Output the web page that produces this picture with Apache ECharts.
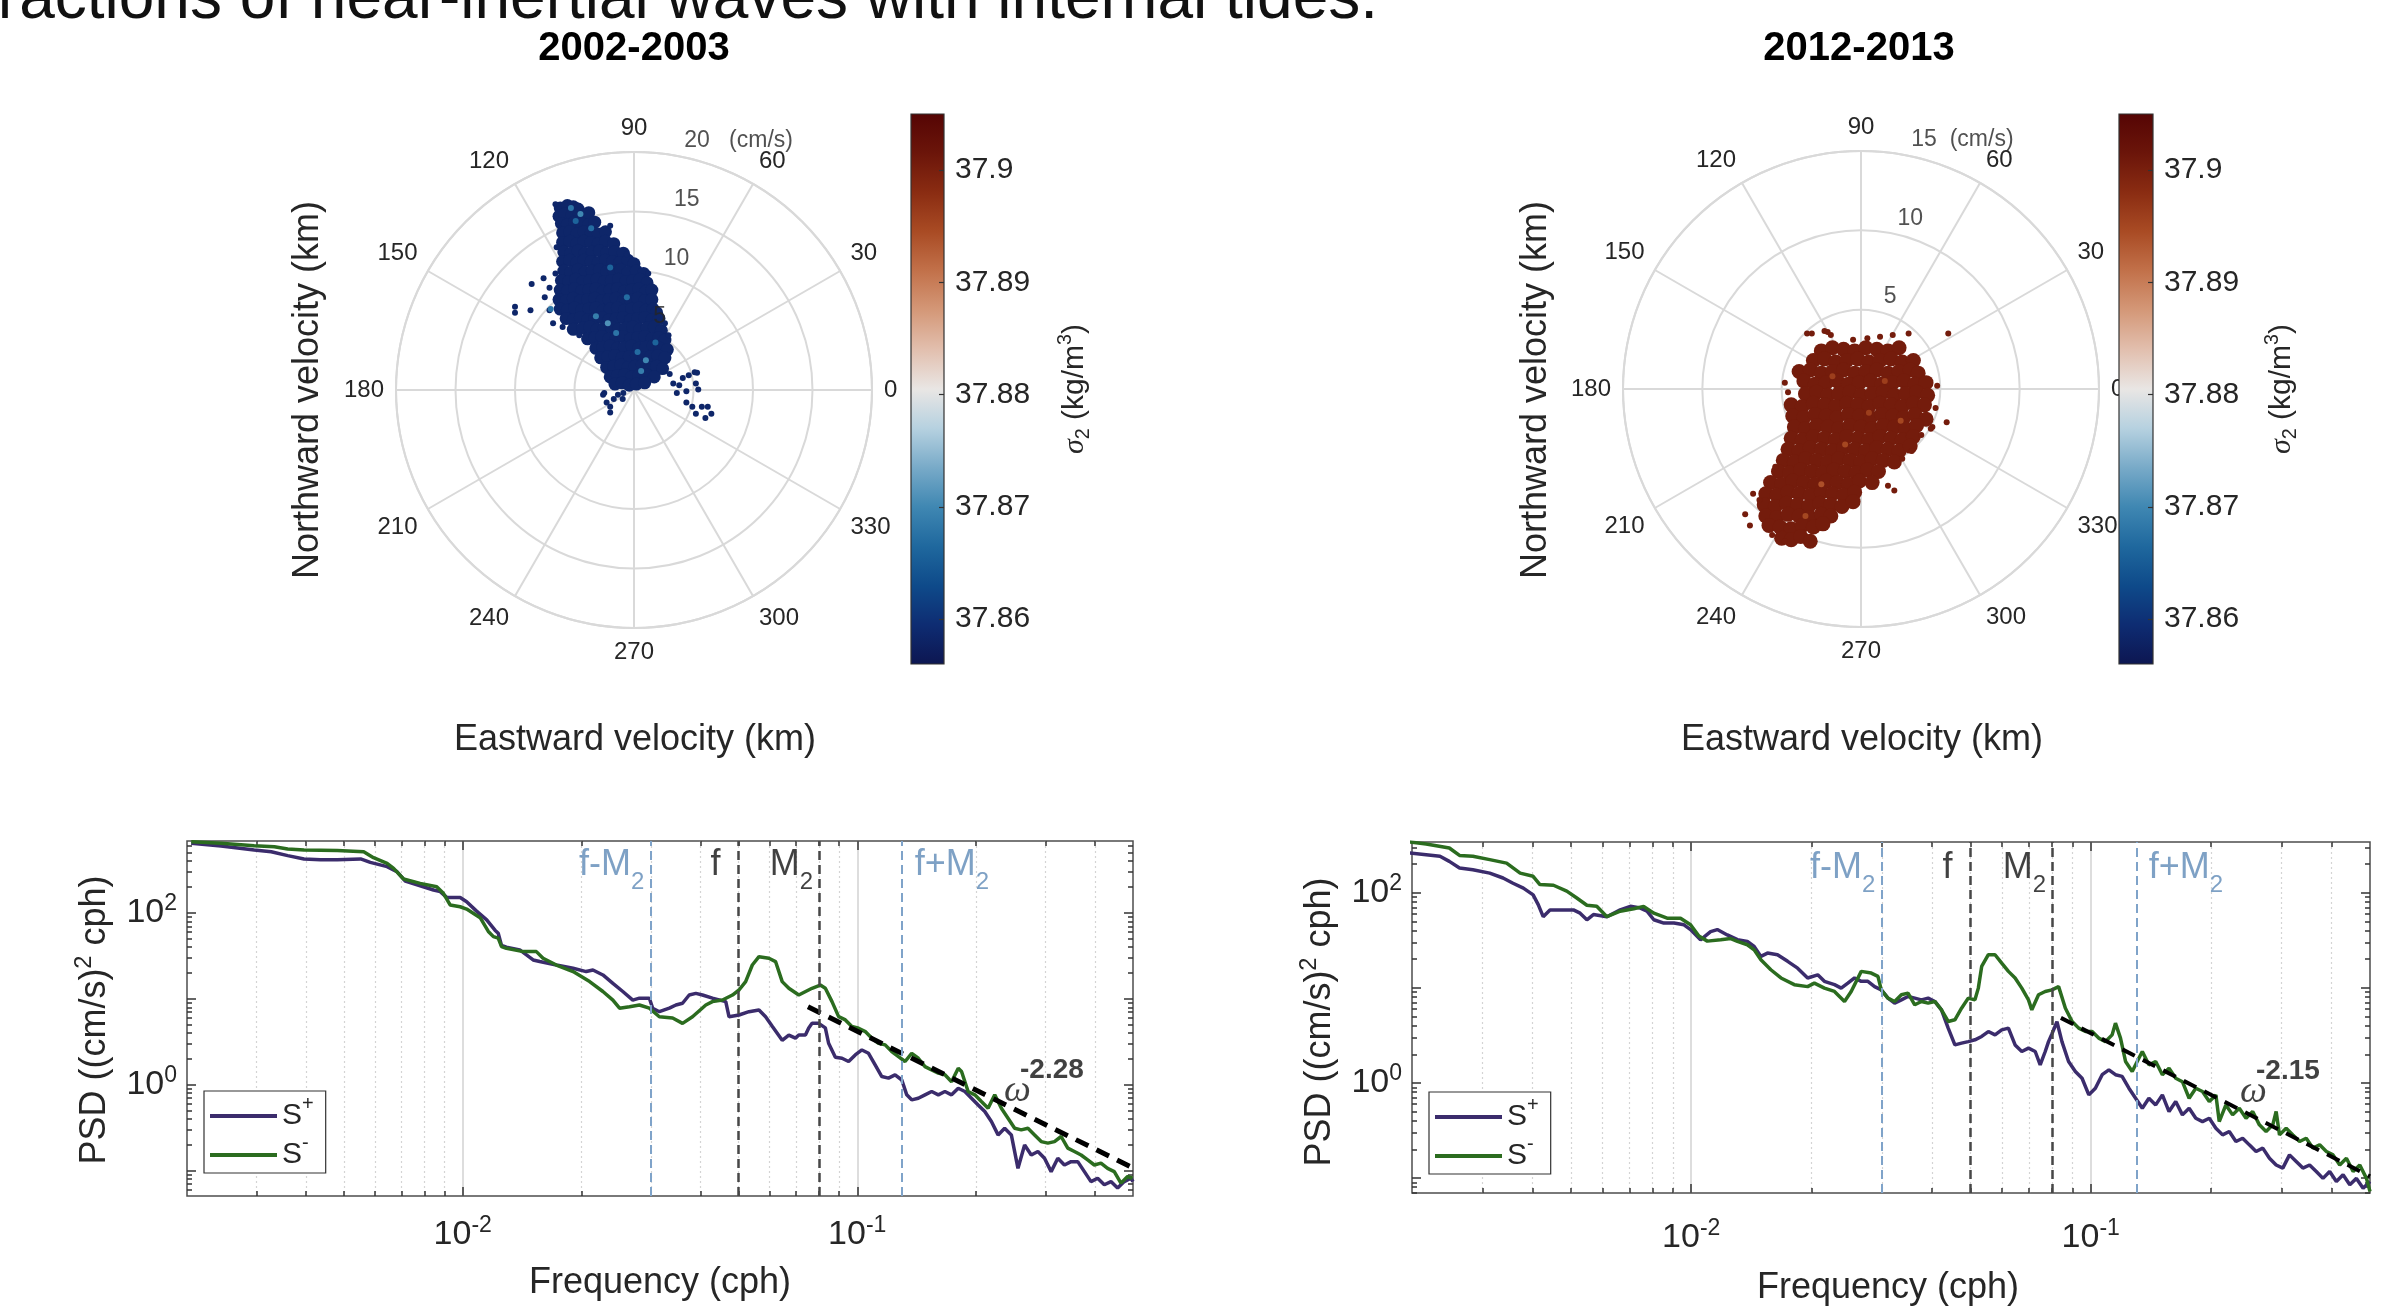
<!DOCTYPE html>
<html>
<head>
<meta charset="utf-8">
<title>Near-inertial waves and internal tides</title>
<script src="https://cdn.jsdelivr.net/npm/echarts@6/dist/echarts.min.js"></script>
<style>
html, body { margin: 0; padding: 0; background: #fff; }
#chart { width: 2401px; height: 1310px; }
</style>
</head>
<body>
<div id="chart"></div>
<script>
var FONT = "'Liberation Sans', Arial, Helvetica, sans-serif";
var NARROW = "'Liberation Sans Narrow', 'Liberation Sans', Arial, sans-serif";
var INK = '#262626';

/*-----colormap (balance) and sigma_2 scale-----*/
var balance = ['#0d1651', '#0e2c72', '#0e4a8a', '#1f689e', '#3f87b2', '#78aac8', '#b6d1e0', '#e9e6e4',
	'#e2bfae', '#d49878', '#c2714a', '#a94b24', '#8a2c12', '#6b150a', '#550504'];
var sigmaRange = [37.856, 37.905];
var sigmaTicks = [37.86, 37.87, 37.88, 37.89, 37.9];

/*-----velocity clouds, [east, north] in cm/s-----*/
var vel2002Core = [
	[-6.2,15.3],[-5.6,15.5],[-5.1,15.4],[-4.7,15.2],
	[-6.3,14.6],[-5.8,14.8],[-5.2,14.7],[-4.6,14.8],[-4.1,14.6],[-3.8,14.9],
	[-6.1,14.0],[-5.6,13.9],[-5.0,14.1],[-4.4,14.0],[-3.8,13.9],[-3.3,14.1],
	[-6.0,13.2],[-5.4,13.3],[-4.8,13.1],[-4.2,13.3],[-3.6,13.2],[-3.0,13.1],[-2.4,13.3],
	[-6.0,12.4],[-5.4,12.5],[-4.8,12.3],[-4.2,12.5],[-3.6,12.4],[-3.0,12.3],[-2.4,12.5],[-1.7,12.3],
	[-5.9,11.6],[-5.3,11.5],[-4.7,11.7],[-4.1,11.5],[-3.5,11.6],[-2.9,11.7],[-2.3,11.5],[-1.6,11.6],[-0.9,11.5],
	[-6.0,10.8],[-5.4,10.9],[-4.8,10.7],[-4.2,10.9],[-3.6,10.8],[-3.0,10.7],[-2.4,10.9],[-1.8,10.8],[-1.2,10.7],[-0.5,10.9],[0.0,10.6],
	[-5.9,10.0],[-5.3,9.9],[-4.7,10.1],[-4.1,9.9],[-3.5,10.0],[-2.9,10.1],[-2.3,9.9],[-1.7,10.0],[-1.1,10.1],[-0.5,9.9],[0.2,10.0],[0.8,9.8],
	[-6.1,9.2],[-5.5,9.1],[-4.9,9.3],[-4.3,9.1],[-3.7,9.2],[-3.1,9.3],[-2.5,9.1],[-1.9,9.2],[-1.3,9.3],[-0.7,9.1],[-0.1,9.2],[0.5,9.3],[1.1,9.0],
	[-6.2,8.4],[-5.6,8.3],[-5.0,8.5],[-4.4,8.3],[-3.8,8.4],[-3.2,8.5],[-2.6,8.3],[-2.0,8.4],[-1.4,8.5],[-0.8,8.3],[-0.2,8.4],[0.4,8.5],[1.0,8.3],[1.5,8.4],
	[-6.3,7.6],[-5.7,7.5],[-5.1,7.7],[-4.5,7.5],[-3.9,7.6],[-3.3,7.7],[-2.7,7.5],[-2.1,7.6],[-1.5,7.7],[-0.9,7.5],[-0.3,7.6],[0.3,7.7],[0.9,7.5],[1.5,7.6],
	[-6.2,6.8],[-5.6,6.7],[-5.0,6.9],[-4.4,6.7],[-3.8,6.8],[-3.2,6.9],[-2.6,6.7],[-2.0,6.8],[-1.4,6.9],[-0.8,6.7],[-0.2,6.8],[0.4,6.9],[1.0,6.7],[1.6,6.8],[1.9,6.5],
	[-5.7,6.0],[-5.1,5.9],[-4.5,6.1],[-3.9,5.9],[-3.3,6.0],[-2.7,6.1],[-2.1,5.9],[-1.5,6.0],[-0.9,6.1],[-0.3,5.9],[0.3,6.0],[0.9,6.1],[1.5,5.9],[2.1,6.0],
	[-5.1,5.1],[-4.3,5.2],[-3.7,5.3],[-3.1,5.1],[-2.5,5.2],[-1.9,5.3],[-1.3,5.1],[-0.7,5.2],[-0.1,5.3],[0.5,5.1],[1.1,5.2],[1.7,5.3],[2.3,5.0],
	[-3.9,4.3],[-3.3,4.4],[-2.7,4.5],[-2.1,4.3],[-1.5,4.4],[-0.9,4.5],[-0.3,4.3],[0.3,4.4],[0.9,4.5],[1.5,4.3],[2.1,4.4],[2.6,4.2],
	[-3.2,3.5],[-2.6,3.6],[-2.0,3.7],[-1.4,3.5],[-0.8,3.6],[-0.2,3.7],[0.4,3.5],[1.0,3.6],[1.6,3.7],[2.2,3.5],[2.8,3.4],
	[-2.8,2.7],[-2.2,2.8],[-1.6,2.9],[-1.0,2.7],[-0.4,2.8],[0.2,2.9],[0.8,2.7],[1.4,2.8],[2.0,2.9],[2.6,2.7],
	[-2.3,1.9],[-1.7,2.0],[-1.1,2.1],[-0.5,1.9],[0.1,2.0],[0.7,2.1],[1.3,1.9],[1.9,2.0],[2.4,1.8],
	[-2.0,1.1],[-1.4,1.2],[-0.8,1.3],[-0.2,1.1],[0.4,1.2],[1.0,1.3],[1.7,1.1],
	[-1.6,0.5],[-1.0,0.6],[-0.4,0.4],[0.2,0.5],[0.9,0.6]
];
var vel2002Sparse = [
	[-10.0,7.0],[-10.0,6.5],[-8.7,6.7],[-8.6,8.9],[-7.6,9.4],[-7.1,8.6],[-7.5,7.8],[-7.1,6.7],[-6.8,5.6],
	[3.0,1.35],[3.3,0.55],[3.6,-0.25],[3.8,0.4],[4.1,1.0],[4.6,1.25],[5.1,1.5],[5.3,1.45],[5.2,0.55],[5.4,0.05],
	[4.4,-1.05],[4.9,-1.4],[5.2,-2.0],[5.7,-1.4],[6.2,-1.4],[6.0,-2.35],[6.5,-2.0],[4.4,-0.1],
	[-2.6,-0.4],[-2.5,-0.25],[-2.0,-1.4],[-2.0,-1.9],[-1.7,-0.75],[-1.35,-0.4],[-0.95,-0.75],[-0.9,-0.25],[-2.3,-1.05],
	[-6.6,15.6],[-6.5,12.0],[-6.6,9.8],[-6.0,5.3],[-4.6,4.6],[2.6,5.6],[2.9,4.6],[1.2,9.8],[-0.6,11.4],[-2.0,13.8]
];
var vel2002Light = [
	[-5.3,15.3,37.868],[-4.5,14.8,37.870],[-4.9,14.2,37.866],[-3.6,13.6,37.867],[-2.0,10.3,37.866],
	[-3.2,6.2,37.869],[-2.2,5.6,37.871],[-1.5,4.8,37.868],[0.3,3.2,37.867],[1.0,2.5,37.870],
	[0.6,1.6,37.869],[-7.0,6.8,37.868],[1.8,4.0,37.866],[-0.6,7.8,37.867]
];
var sigma2002 = 37.8585;

var vel2012Core = [
	[-2.5,2.4],[-1.8,2.6],[-1.1,2.5],[-0.4,2.4],[0.3,2.6],[1.0,2.5],[1.7,2.4],[2.4,2.6],
	[-3.0,1.8],[-2.3,1.9],[-1.6,1.7],[-0.9,1.8],[-0.2,1.9],[0.5,1.7],[1.2,1.8],[1.9,1.9],[2.6,1.7],[3.3,1.8],
	[-3.9,1.1],[-3.2,1.2],[-2.5,1.0],[-1.8,1.1],[-1.1,1.2],[-0.4,1.0],[0.3,1.1],[1.0,1.2],[1.7,1.0],[2.4,1.1],[3.1,1.2],[3.6,1.0],
	[-3.6,0.5],[-2.9,0.3],[-2.2,0.4],[-1.5,0.5],[-0.8,0.3],[-0.1,0.4],[0.6,0.5],[1.3,0.3],[2.0,0.4],[2.7,0.5],[3.4,0.3],[4.1,0.4],
	[-3.5,-0.3],[-2.8,-0.2],[-2.1,-0.4],[-1.4,-0.3],[-0.7,-0.2],[0.0,-0.4],[0.7,-0.3],[1.4,-0.2],[2.1,-0.4],[2.8,-0.3],[3.5,-0.2],[4.2,-0.4],
	[-4.4,-1.0],[-3.7,-1.1],[-3.0,-0.9],[-2.3,-1.0],[-1.6,-1.1],[-0.9,-0.9],[-0.2,-1.0],[0.5,-1.1],[1.2,-0.9],[1.9,-1.0],[2.6,-1.1],[3.3,-0.9],[4.0,-1.0],
	[-4.3,-1.7],[-3.6,-1.8],[-2.9,-1.6],[-2.2,-1.7],[-1.5,-1.8],[-0.8,-1.6],[-0.1,-1.7],[0.6,-1.8],[1.3,-1.6],[2.0,-1.7],[2.7,-1.8],[3.4,-1.6],[4.1,-1.9],
	[-4.2,-2.4],[-3.5,-2.5],[-2.8,-2.3],[-2.1,-2.4],[-1.4,-2.5],[-0.7,-2.3],[0.0,-2.4],[0.7,-2.5],[1.4,-2.3],[2.1,-2.4],[2.8,-2.5],[3.5,-2.3],
	[-4.4,-3.1],[-3.7,-3.2],[-3.0,-3.0],[-2.3,-3.1],[-1.6,-3.2],[-0.9,-3.0],[-0.2,-3.1],[0.5,-3.2],[1.2,-3.0],[1.9,-3.1],[2.6,-3.2],[3.3,-3.0],
	[-4.6,-3.8],[-3.9,-3.9],[-3.2,-3.7],[-2.5,-3.8],[-1.8,-3.9],[-1.1,-3.7],[-0.4,-3.8],[0.3,-3.9],[1.0,-3.7],[1.7,-3.8],[2.4,-3.9],[3.1,-3.6],
	[-4.9,-4.5],[-4.2,-4.6],[-3.5,-4.4],[-2.8,-4.5],[-2.1,-4.6],[-1.4,-4.4],[-0.7,-4.5],[0.0,-4.6],[0.7,-4.4],[1.4,-4.5],[2.1,-4.6],
	[-5.2,-5.2],[-4.5,-5.3],[-3.8,-5.1],[-3.1,-5.2],[-2.4,-5.3],[-1.7,-5.1],[-1.0,-5.2],[-0.3,-5.3],[0.4,-5.1],[1.1,-5.2],
	[-5.7,-5.9],[-5.0,-6.0],[-4.3,-5.8],[-3.6,-5.9],[-2.9,-6.0],[-2.2,-5.8],[-1.5,-5.9],[-0.8,-6.0],[-0.1,-5.8],[0.7,-5.9],
	[-6.0,-6.6],[-5.3,-6.7],[-4.6,-6.5],[-3.9,-6.6],[-3.2,-6.7],[-2.5,-6.5],[-1.8,-6.6],[-1.1,-6.7],[-0.4,-6.5],
	[-6.1,-7.3],[-5.4,-7.4],[-4.7,-7.2],[-4.0,-7.3],[-3.3,-7.4],[-2.6,-7.2],[-1.9,-7.3],[-1.2,-7.4],[-0.5,-7.1],
	[-6.0,-8.0],[-5.3,-8.1],[-4.6,-7.9],[-3.9,-8.0],[-3.2,-8.1],[-2.5,-7.9],[-1.9,-8.0],
	[-5.8,-8.6],[-5.1,-8.7],[-4.4,-8.8],[-3.7,-8.6],[-3.0,-8.7],[-2.4,-8.5],
	[-5.0,-9.4],[-4.4,-9.5],[-3.8,-9.3],[-3.2,-9.6]
];
var vel2012Sparse = [
	[-3.1,3.5],[-2.1,3.6],[-1.9,3.4],[-0.5,3.1],[0.4,3.2],[1.2,3.3],[2.0,3.4],[3.0,3.5],[5.5,3.5],
	[-4.8,0.4],[4.8,0.2],[-4.6,-0.2],[4.7,-1.2],[4.5,-2.4],
	[-6.8,-6.6],[-7.3,-7.9],[-7.0,-8.6],[5.4,-2.1],[4.4,-2.5],[3.2,-3.9],[2.1,-6.4],[1.7,-6.1],
	[-3.1,-9.7],[-4.8,-9.6],[-3.4,3.5],[-2.3,3.65],[-5.4,-4.9],[-6.4,-7.0],[-5.6,-9.2],[2.6,-4.4],[3.8,-2.9]
];
var vel2012Light = [
	[-1.0,-3.5,37.895],[0.5,-1.5,37.896],[-2.5,-6.0,37.894],[1.5,0.5,37.896],
	[-3.5,-8.0,37.895],[2.5,-2.0,37.895],[-1.8,0.8,37.896]
];
var sigma2012 = 37.9005;

var rings2002 = [5, 10, 15, 20];
var rings2012 = [5, 10, 15];

/*-----rotary spectra, [frequency (cph), PSD ((cm/s)^2 cph)]-----*/
var sPlus2002 = [[0.00205,646],[0.00244,601],[0.00296,540],[0.00327,516],[0.0036,464],[0.00396,425],[0.00436,417],[0.00481,417],[0.00551,425],[0.00583,388],[0.00643,346],[0.00681,303],[0.00715,235],[0.0078,207],[0.00843,185],[0.00877,177],[0.00912,151],[0.00985,151],[0.01023,135],[0.01084,105],[0.0115,83],[0.01207,63],[0.0123,58],[0.01254,42],[0.0129,40],[0.01395,37.1],[0.01508,28.4],[0.01567,27.2],[0.01727,24.8],[0.01904,22.7],[0.02056,20.8],[0.02138,21.7],[0.02266,19.0],[0.02402,15.2],[0.02545,12.2],[0.02698,9.7],[0.02804,10.2],[0.02972,10.2],[0.0303,7.8],[0.0315,7.1],[0.03339,7.8],[0.0347,8.5],[0.03607,8.9],[0.0375,11.1],[0.03898,11.6],[0.04052,11.1],[0.04295,10.2],[0.04642,9.3],[0.04732,6.2],[0.05015,6.5],[0.05316,7.1],[0.05635,7.45],[0.05857,6.2],[0.06088,4.8],[0.06453,3.3],[0.06707,3.8],[0.06972,3.5],[0.07109,3.8],[0.0739,3.8],[0.07534,4.6],[0.0768,5.2],[0.07985,5.2],[0.083,4.6],[0.0846,3.05],[0.088,2.1],[0.09147,2.04],[0.09508,1.87],[0.09884,2.23],[0.10275,2.55],[0.10681,2.33],[0.111,1.71],[0.1154,1.25],[0.12,1.2],[0.1247,1.31],[0.1297,1.14],[0.1335,0.766],[0.1374,0.67],[0.1428,0.7],[0.1485,0.766],[0.1544,0.837],[0.1605,0.766],[0.1668,0.837],[0.1734,0.766],[0.1803,0.914],[0.1874,0.837],[0.1948,0.7],[0.2025,0.585],[0.2105,0.49],[0.2188,0.375],[0.2275,0.262],[0.2364,0.313],[0.2458,0.262],[0.2555,0.107],[0.2656,0.2],[0.2761,0.153],[0.287,0.168],[0.2983,0.14],[0.3101,0.098],[0.3224,0.14],[0.3351,0.117],[0.3484,0.128],[0.3622,0.128],[0.3765,0.098],[0.3913,0.075],[0.4068,0.082],[0.4229,0.069],[0.4396,0.075],[0.457,0.063],[0.4751,0.075],[0.4939,0.082],[0.5,0.075]];
var sMinus2002 = [[0.00205,675],[0.00244,646],[0.00296,606],[0.00333,590],[0.0036,555],[0.00396,540],[0.00481,531],[0.00561,516],[0.00594,440],[0.00643,378],[0.00668,330],[0.00708,248],[0.0078,221],[0.00859,202],[0.00893,169],[0.00929,124],[0.00985,118],[0.01023,111],[0.01107,88],[0.01161,61],[0.01196,53],[0.0123,51],[0.01254,40.6],[0.0129,38.8],[0.01423,35.5],[0.01537,35.5],[0.01598,29.7],[0.01727,24.8],[0.01904,20.8],[0.02097,15.9],[0.02266,12.2],[0.02402,9.7],[0.02497,7.8],[0.02647,8.1],[0.02804,8.5],[0.02972,7.8],[0.0315,6.2],[0.03404,6.0],[0.03607,5.2],[0.03823,6.2],[0.04132,8.5],[0.04295,9.3],[0.04554,9.7],[0.04827,11.1],[0.05015,12.7],[0.05213,15.9],[0.0542,24.8],[0.05635,31.0],[0.05971,29.7],[0.06207,27.2],[0.06453,15.9],[0.06707,13.3],[0.07109,11.1],[0.0768,13.3],[0.0806,14.5],[0.083,13.3],[0.0863,9.31],[0.0897,6.23],[0.0933,5.7],[0.0969,4.77],[0.1008,4.56],[0.1048,4.17],[0.1089,3.49],[0.1132,3.05],[0.1177,2.92],[0.1223,2.44],[0.1272,2.13],[0.1322,1.87],[0.1374,2.33],[0.1428,2.04],[0.1485,1.63],[0.1544,1.49],[0.1605,1.37],[0.1668,1.31],[0.1734,1.09],[0.1803,1.56],[0.1838,1.43],[0.191,0.837],[0.1986,0.766],[0.2064,0.64],[0.2146,0.535],[0.2231,0.766],[0.2319,0.535],[0.2411,0.409],[0.2506,0.313],[0.2605,0.3],[0.2708,0.313],[0.2815,0.262],[0.2926,0.219],[0.3042,0.21],[0.3162,0.219],[0.3287,0.251],[0.3417,0.184],[0.3552,0.168],[0.3693,0.153],[0.3838,0.134],[0.399,0.117],[0.4147,0.123],[0.4311,0.107],[0.4482,0.098],[0.466,0.072],[0.4844,0.086],[0.4987,0.082]];
var sPlus2012 = [[0.00197,262],[0.00217,251],[0.00235,242],[0.00248,214],[0.00263,182],[0.00284,175],[0.00313,161],[0.00338,143],[0.00358,126],[0.0038,112],[0.00402,95],[0.00414,75],[0.00426,56],[0.00443,66],[0.00469,66],[0.00507,66],[0.00527,61],[0.00548,52],[0.00569,59],[0.00615,56],[0.00664,66],[0.00704,72],[0.00746,69],[0.00775,64],[0.00806,52],[0.00854,48],[0.00905,48],[0.00959,46],[0.00996,41],[0.01055,32],[0.01118,39],[0.01162,41],[0.01231,36],[0.01305,32.1],[0.01382,30.8],[0.01437,27.3],[0.01494,21.4],[0.01552,23.2],[0.01644,22.3],[0.01743,19.0],[0.01846,16.1],[0.01956,12.7],[0.02073,13.7],[0.02154,11.7],[0.02283,10.8],[0.02373,9.93],[0.02466,11.2],[0.02563,12.7],[0.02664,11.7],[0.02768,11.7],[0.02877,10.3],[0.0299,9.53],[0.03107,7.79],[0.03229,6.9],[0.03357,7.48],[0.03488,8.11],[0.03626,7.79],[0.03768,7.48],[0.03917,7.79],[0.0407,7.19],[0.0423,5.87],[0.04397,3.77],[0.0457,2.51],[0.04749,2.62],[0.04936,2.72],[0.0513,2.84],[0.05333,3.08],[0.05542,3.47],[0.0576,3.2],[0.05986,3.61],[0.06222,3.77],[0.06466,2.51],[0.0672,2.14],[0.06984,2.32],[0.07261,2.14],[0.07472,1.55],[0.07692,2.14],[0.0784,2.72],[0.08,3.3],[0.0823,4.4],[0.0847,2.72],[0.088,1.68],[0.0915,1.32],[0.0951,1.12],[0.0989,0.748],[0.1027,0.879],[0.1068,1.22],[0.111,1.37],[0.1153,1.22],[0.1198,1.17],[0.1246,0.879],[0.1295,0.69],[0.1346,0.542],[0.1398,0.69],[0.1454,0.587],[0.1511,0.748],[0.157,0.5],[0.1632,0.637],[0.1696,0.461],[0.1763,0.542],[0.1832,0.425],[0.1904,0.392],[0.198,0.425],[0.2057,0.334],[0.2138,0.284],[0.2222,0.308],[0.2309,0.242],[0.24,0.262],[0.2494,0.223],[0.2593,0.19],[0.2695,0.206],[0.2801,0.161],[0.2911,0.137],[0.3025,0.127],[0.3144,0.175],[0.3268,0.149],[0.3396,0.127],[0.353,0.137],[0.3669,0.117],[0.3813,0.099],[0.3963,0.117],[0.4119,0.092],[0.4281,0.108],[0.445,0.085],[0.4624,0.099],[0.4806,0.078],[0.5,0.092]];
var sMinus2012 = [[0.00197,342],[0.00217,326],[0.00248,296],[0.00263,247],[0.00284,242],[0.00313,223],[0.00345,205],[0.00373,161],[0.00402,149],[0.00418,122],[0.00452,120],[0.00488,104],[0.00517,88],[0.00548,74],[0.0058,72],[0.00615,56],[0.00664,64],[0.00718,68],[0.0076,72],[0.00806,61],[0.0087,54],[0.0094,54],[0.00996,46],[0.01045,35],[0.01097,31],[0.01185,32],[0.01256,33],[0.01305,30.8],[0.01382,28.4],[0.01437,25.1],[0.01494,19.7],[0.01582,15.5],[0.01677,12.7],[0.01811,10.8],[0.01956,10.3],[0.02033,11.2],[0.02154,9.93],[0.02283,9.16],[0.02419,7.19],[0.02514,9.16],[0.02664,14.9],[0.02822,14.3],[0.02933,13.2],[0.0299,9.53],[0.03107,7.79],[0.03229,7.19],[0.03357,8.45],[0.03488,8.79],[0.03626,6.63],[0.03768,7.19],[0.03917,6.9],[0.0407,7.19],[0.0423,5.87],[0.04397,4.43],[0.0457,4.61],[0.04749,6.11],[0.04936,7.79],[0.0513,7.48],[0.05231,9.93],[0.05333,16.8],[0.05542,22.3],[0.0576,22.3],[0.05986,18.2],[0.06222,14.9],[0.06466,12.7],[0.0672,9.93],[0.06984,7.48],[0.0712,5.87],[0.07401,8.45],[0.07692,9.16],[0.07995,9.53],[0.0831,10.3],[0.0864,6.11],[0.0898,4.43],[0.0933,3.77],[0.097,3.47],[0.1008,3.47],[0.1047,2.96],[0.1089,2.72],[0.1131,3.2],[0.1153,4.25],[0.1187,2.96],[0.1222,1.68],[0.127,1.32],[0.1307,1.68],[0.1346,2.14],[0.1398,1.55],[0.1454,1.68],[0.1511,1.22],[0.157,1.43],[0.1632,1.12],[0.1696,1.03],[0.1763,0.69],[0.1832,0.879],[0.1904,0.811],[0.198,0.637],[0.2057,0.748],[0.2097,0.392],[0.2179,0.587],[0.2265,0.461],[0.2354,0.542],[0.2447,0.425],[0.2543,0.5],[0.2643,0.362],[0.2747,0.308],[0.2855,0.362],[0.2911,0.5],[0.2968,0.284],[0.3084,0.334],[0.3206,0.284],[0.3332,0.242],[0.3462,0.262],[0.3599,0.206],[0.3741,0.223],[0.3888,0.19],[0.404,0.175],[0.42,0.137],[0.4365,0.161],[0.4537,0.117],[0.4714,0.137],[0.4899,0.099],[0.5,0.072]];

// power-law fits
var fit2002 = [[0.075, 8.1], [0.5, 0.108]];
var fit2012 = [[0.0842, 4.83], [0.5, 0.104]];
var slope2002 = '-2.28';
var slope2012 = '-2.15';

// tidal / inertial frequencies (cph)
var tideFreqs = [0.0299, 0.0506, 0.0805, 0.1311];
var tideNames = ['f-M', 'f', 'M', 'f+M'];
var tideSub = ['2', '', '2', '2'];

var freqMajor = [0.01, 0.1];
var freqMinor = [0.003, 0.004, 0.005, 0.006, 0.007, 0.008, 0.009, 0.02, 0.03, 0.04, 0.05, 0.06, 0.07, 0.08, 0.09, 0.2, 0.3, 0.4];
var psdMajor = [0.1, 1, 10, 100];
var psdLabels = [1, 100];
var psdMinor = [0.06, 0.07, 0.08, 0.09, 0.2, 0.3, 0.4, 0.5, 0.6, 0.7, 0.8, 0.9, 2, 3, 4, 5, 6, 7, 8, 9,
	20, 30, 40, 50, 60, 70, 80, 90, 200, 300, 400, 500, 600];

/*-----helpers-----*/
function toPolar(list, sigma) {
	return list.map(function(p) {
		var r = Math.sqrt(p[0] * p[0] + p[1] * p[1]);
		var a = Math.atan2(p[1], p[0]) * 180 / Math.PI;
		if (a < 0) a += 360;
		return [r, a, p.length > 2 ? p[2] : sigma];
	});
}
function pow10(v) {
	return '{b|10}{e|' + Math.round(Math.log10(v)) + '}';
}
var tickRich = {
	b: { fontSize: 34, fontFamily: FONT, color: INK, verticalAlign: 'middle' },
	e: { fontSize: 23, fontFamily: FONT, color: INK, verticalAlign: 'middle', padding: [0, 0, 18, 0] }
};

var xAxes = [], yAxes = [];
function psdAxes(g, yMin, yMax, labelMargin) {
	var ax = { x: xAxes.length, y: yAxes.length };
	var tick = { color: '#333', width: 1.5 };
	['bottom', 'top'].forEach(function(pos) {
		xAxes.push({ gridIndex: g, type: 'log', min: 0.002, max: 0.5, position: pos,
			axisLine: { show: false, onZero: false },
			axisTick: { show: true, inside: true, length: 9, customValues: freqMajor, lineStyle: tick },
			axisLabel: pos === 'bottom' ? { show: true, customValues: freqMajor, formatter: pow10, rich: tickRich, margin: labelMargin } : { show: false },
			splitLine: { show: pos === 'bottom', lineStyle: { color: '#d2d2d2', width: 1.5 } } });
		xAxes.push({ gridIndex: g, type: 'log', min: 0.002, max: 0.5, position: pos,
			axisLine: { show: false, onZero: false },
			axisTick: { show: true, inside: true, length: 5, customValues: freqMinor, lineStyle: tick },
			axisLabel: { show: false },
			splitLine: { show: pos === 'bottom', lineStyle: { color: '#d4d4d4', width: 1.2, type: [2, 3] } } });
	});
	['left', 'right'].forEach(function(pos) {
		yAxes.push({ gridIndex: g, type: 'log', min: yMin, max: yMax, position: pos,
			axisLine: { show: false, onZero: false },
			axisTick: { show: true, inside: true, length: 9, customValues: psdMajor, lineStyle: tick },
			axisLabel: pos === 'left' ? { show: true, customValues: psdLabels, formatter: pow10, rich: tickRich, margin: 10 } : { show: false },
			splitLine: { show: false } });
		yAxes.push({ gridIndex: g, type: 'log', min: yMin, max: yMax, position: pos,
			axisLine: { show: false, onZero: false },
			axisTick: { show: true, inside: true, length: 5, customValues: psdMinor, lineStyle: tick },
			axisLabel: { show: false }, splitLine: { show: false } });
	});
	return ax;
}
function cbarAxes(g) {
	var ax = { x: xAxes.length, y: yAxes.length };
	xAxes.push({ gridIndex: g, type: 'category', data: ['c'], show: false });
	yAxes.push({ gridIndex: g, type: 'value', min: sigmaRange[0], max: sigmaRange[1], position: 'right', z: 10,
		axisLine: { show: false, onZero: false },
		axisTick: { show: true, inside: true, length: 5, customValues: sigmaTicks, lineStyle: { color: '#333', width: 1.2 } },
		axisLabel: { show: true, customValues: sigmaTicks, fontSize: 30, fontFamily: FONT, color: INK, margin: 11,
			formatter: function(v) { return String(parseFloat(Number(v).toFixed(3))); } },
		splitLine: { show: false } });
	return ax;
}

var psdAx2002 = psdAxes(0, 0.051, 687, 18);
var psdAx2012 = psdAxes(1, 0.0695, 342, 24);
var cbAx2002 = cbarAxes(2);
var cbAx2012 = cbarAxes(3);

var gradStops = balance.map(function(c, i) { return { offset: i / (balance.length - 1), color: c }; });

/*-----series-----*/
var series = [];
var cloudIdx = [];
function addCloud(polarIndex, pts, sigma, size) {
	cloudIdx.push(series.length);
	series.push({ type: 'scatter', coordinateSystem: 'polar', polarIndex: polarIndex, symbolSize: size,
		itemStyle: { opacity: 1, borderWidth: 0 },
		data: toPolar(pts, sigma), silent: true, z: 3 });
}
function addRingLabels(polarIndex, rings, gap) {
	var maxR = rings[rings.length - 1];
	series.push({ type: 'scatter', coordinateSystem: 'polar', polarIndex: polarIndex, symbolSize: 0, silent: true, z: 6,
		itemStyle: { color: 'transparent' },
		data: rings.map(function(r) { return [r, 80]; }),
		label: { show: true, position: [9, -3], align: 'left', verticalAlign: 'bottom',
			fontSize: 23, fontFamily: FONT, color: INK,
			formatter: function(p) { return p.value[0] === maxR ? maxR + gap + '(cm/s)' : String(p.value[0]); } } });
}
addCloud(0, vel2002Core, sigma2002, 13);
addCloud(0, vel2002Sparse, sigma2002, 6);
addCloud(0, vel2002Light, sigma2002, 6);
addRingLabels(0, rings2002, '   ');
addCloud(1, vel2012Core, sigma2012, 15);
addCloud(1, vel2012Sparse, sigma2012, 6);
addCloud(1, vel2012Light, sigma2012, 6);
addRingLabels(1, rings2012, '  ');

// colorbars
[cbAx2002, cbAx2012].forEach(function(ax) {
	series.push({ type: 'custom', xAxisIndex: ax.x, yAxisIndex: ax.y, silent: true, z: 4,
		data: [[0, sigmaRange[0], sigmaRange[1]]],
		renderItem: function(params, api) {
			var top = api.coord([api.value(0), api.value(2)]);
			var bottom = api.coord([api.value(0), api.value(1)]);
			var w = api.size([1, 0])[0];
			return { type: 'rect', shape: { x: top[0] - w / 2, y: top[1], width: w, height: bottom[1] - top[1] },
				style: { fill: new echarts.graphic.LinearGradient(0, 1, 0, 0, gradStops), stroke: '#333', lineWidth: 1.2 } };
		} });
});

var PURPLE = '#3b2c6c', GREEN = '#2b6c1f';
var tideColors = ['#7fa3c9', '#474747', '#474747', '#7fa3c9'];
var tideLabelColors = ['#5e89b6', '#111', '#111', '#5e89b6'];
var tideLabelSide = ['left', 'left', 'left', 'right'];
var tideLabelGap = [6, 20, 7, 11];

function addSpectrum(ax, plus, minus, fit, fitWidth, slope, labelY, omegaAt) {
	series.push({ name: 'S+', type: 'line', xAxisIndex: ax.x, yAxisIndex: ax.y, data: plus, symbol: 'none', silent: true, z: 2,
		lineStyle: { color: PURPLE, width: 3.5 }, itemStyle: { color: PURPLE },
		markLine: { silent: true, symbol: ['none', 'none'], label: { show: false }, animation: false,
			data: tideFreqs.map(function(f, i) {
				return { xAxis: f, lineStyle: { color: tideColors[i], width: i === 1 || i === 2 ? 2.5 : 2, type: [9, 5] } };
			}) } });
	series.push({ name: 'S-', type: 'line', xAxisIndex: ax.x, yAxisIndex: ax.y, data: minus, symbol: 'none', silent: true, z: 3,
		lineStyle: { color: GREEN, width: 3.5 }, itemStyle: { color: GREEN } });
	series.push({ type: 'line', xAxisIndex: ax.x, yAxisIndex: ax.y, data: fit, symbol: 'none', silent: true, z: 4,
		lineStyle: { color: '#000', width: fitWidth, type: [14, 9] } });
	series.push({ type: 'scatter', xAxisIndex: ax.x, yAxisIndex: ax.y, symbolSize: 0, silent: true, z: 5,
		itemStyle: { color: 'transparent' },
		data: tideFreqs.map(function(f, i) {
			var c = tideLabelColors[i];
			return { value: [f, labelY],
				label: { show: true, position: tideLabelSide[i], distance: tideLabelGap[i],
					formatter: '{m|' + tideNames[i] + '}' + (tideSub[i] ? '{s|' + tideSub[i] + '}' : ''),
					rich: { m: { fontSize: 36, fontFamily: FONT, color: c, verticalAlign: 'middle' },
						s: { fontSize: 24, fontFamily: FONT, color: c, verticalAlign: 'middle', padding: [34, 0, 0, 0] } } } };
		}) });
	// omega and its exponent as two separate labels on the same anchor
	series.push({ type: 'scatter', xAxisIndex: ax.x, yAxisIndex: ax.y, symbolSize: 0, silent: true, z: 5,
		itemStyle: { color: 'transparent' },
		data: [
			{ value: omegaAt, label: { show: true, position: 'right', distance: 0, formatter: '\u03c9',
				fontSize: 38, fontFamily: "'Liberation Serif', serif", fontStyle: 'italic', color: '#111' } },
			{ value: omegaAt, label: { show: true, position: 'right', distance: 16, offset: [0, -21], formatter: slope,
				fontSize: 28, fontFamily: NARROW, fontWeight: 'bold', color: '#111' } }
		] });
}
addSpectrum(psdAx2002, sPlus2002, sMinus2002, fit2002, 5, slope2002, 356, [0.2355, 0.851]);
addSpectrum(psdAx2012, sPlus2012, sMinus2012, fit2012, 4, slope2012, 181, [0.2364, 0.804]);

/*-----legends-----*/
function legendAt(left, top) {
	return { data: ['S+', 'S-'], orient: 'vertical', left: left, top: top, selectedMode: false,
		icon: 'rect', itemWidth: 67, itemHeight: 4, itemGap: 2, padding: [3, 12, 3, 6],
		backgroundColor: '#fff', borderColor: '#333', borderWidth: 1.2, borderRadius: 0,
		formatter: function(n) { return '{s|S}{p|' + n.charAt(1) + '}'; },
		textStyle: { fontFamily: FONT, color: INK, fontSize: 30,
			rich: { s: { fontSize: 30, fontFamily: FONT, color: INK, verticalAlign: 'middle' },
				p: { fontSize: 20, fontFamily: FONT, color: INK, verticalAlign: 'middle', padding: [0, 0, 24, 0] } } } };
}

/*-----titles and axis names-----*/
function txt(x, y, text, size, opts) {
	opts = opts || {};
	return { type: 'text', x: x, y: y, rotation: opts.rot || 0, silent: true, z: 20,
		style: { text: text, fontSize: size, fontFamily: opts.family || FONT, fontWeight: opts.bold ? 'bold' : 'normal', fill: opts.color || INK,
			align: opts.align || 'center', verticalAlign: opts.valign || 'middle',
			textAlign: opts.align || 'center', textVerticalAlign: opts.valign || 'middle', rich: opts.rich } };
}
var supRich = function(size) {
	return { a: { fontSize: size, fontFamily: FONT, fill: INK, color: INK, verticalAlign: 'middle' },
		i: { fontSize: size, fontFamily: "'Liberation Serif', serif", fontStyle: 'italic', fill: INK, color: INK, verticalAlign: 'middle' },
		p: { fontSize: size * 0.66, fontFamily: FONT, fill: INK, color: INK, verticalAlign: 'middle', padding: [0, 0, size * 0.6, 0] },
		s: { fontSize: size * 0.66, fontFamily: FONT, fill: INK, color: INK, verticalAlign: 'middle', padding: [size * 0.6, 0, 0, 0] } };
};
var VERT = Math.PI / 2;
var graphics = [
	txt(1378, 32, 'Interactions of near-inertial waves with internal tides.', 64, { align: 'right', valign: 'bottom', color: '#111' }),
	txt(634, 49, '2002-2003', 40, { bold: true, color: '#000' }),
	txt(1859, 49, '2012-2013', 40, { bold: true, color: '#000' }),
	txt(308, 390, 'Northward velocity (km)', 36, { rot: VERT }),
	txt(635, 740, 'Eastward velocity (km)', 36),
	txt(1536, 390, 'Northward velocity (km)', 36, { rot: VERT }),
	txt(1862, 740, 'Eastward velocity (km)', 36),
	txt(1075, 389, '{i|\u03c3}{s|2}{a| (kg/m}{p|3}{a|)}', 30, { rot: VERT, rich: supRich(30) }),
	txt(2282, 389, '{i|\u03c3}{s|2}{a| (kg/m}{p|3}{a|)}', 30, { rot: VERT, rich: supRich(30) }),
	txt(95, 1020, '{a|PSD ((cm/s)}{p|2}{a| cph)}', 36, { rot: VERT, rich: supRich(36) }),
	txt(1320, 1022, '{a|PSD ((cm/s)}{p|2}{a| cph)}', 36, { rot: VERT, rich: supRich(36) }),
	txt(660, 1283, 'Frequency (cph)', 36),
	txt(1888, 1288, 'Frequency (cph)', 36)
];

/*-----polar axes-----*/
function angleAxis(i) {
	return { polarIndex: i, type: 'value', min: 0, max: 360, interval: 30, startAngle: 0, clockwise: false, z: 1,
		axisLine: { show: true, lineStyle: { color: '#d9d9d9', width: 2 } },
		axisTick: { show: false },
		axisLabel: { show: true, fontSize: 24, fontFamily: FONT, color: INK, margin: 12,
			formatter: function(v) { return v >= 360 ? '' : String(v); } },
		splitLine: { show: true, lineStyle: { color: '#d9d9d9', width: 2 } } };
}
function radiusAxis(i, maxR) {
	return { polarIndex: i, type: 'value', min: 0, max: maxR, interval: 5, z: 1,
		axisLine: { show: false }, axisTick: { show: false }, axisLabel: { show: false },
		splitLine: { show: true, lineStyle: { color: '#d9d9d9', width: 2 } } };
}

var option = {
	animation: false,
	backgroundColor: '#fff',
	textStyle: { fontFamily: FONT },
	polar: [{ center: [634, 390], radius: 238 }, { center: [1861, 389], radius: 238 }],
	angleAxis: [angleAxis(0), angleAxis(1)],
	radiusAxis: [radiusAxis(0, rings2002[rings2002.length - 1]), radiusAxis(1, rings2012[rings2012.length - 1])],
	grid: [
		{ left: 187, top: 841, width: 946, height: 355, show: true, borderColor: '#4d4d4d', borderWidth: 1.5, backgroundColor: 'transparent', outerBoundsMode: 'none', containLabel: false },
		{ left: 1412, top: 842, width: 958, height: 351, show: true, borderColor: '#4d4d4d', borderWidth: 1.5, backgroundColor: 'transparent', outerBoundsMode: 'none', containLabel: false },
		{ left: 911, top: 114, width: 33, height: 550, outerBoundsMode: 'none', containLabel: false },
		{ left: 2119, top: 114, width: 34, height: 550, outerBoundsMode: 'none', containLabel: false }
	],
	xAxis: xAxes,
	yAxis: yAxes,
	visualMap: [{ type: 'continuous', show: false, min: sigmaRange[0], max: sigmaRange[1], dimension: 2,
		seriesIndex: cloudIdx, inRange: { color: balance } }],
	legend: [legendAt(204, 1091), legendAt(1429, 1092)],
	graphic: graphics,
	series: series
};

var chart = echarts.init(document.getElementById('chart'), null, { renderer: 'canvas' });
chart.setOption(option);
</script>
</body>
</html>
